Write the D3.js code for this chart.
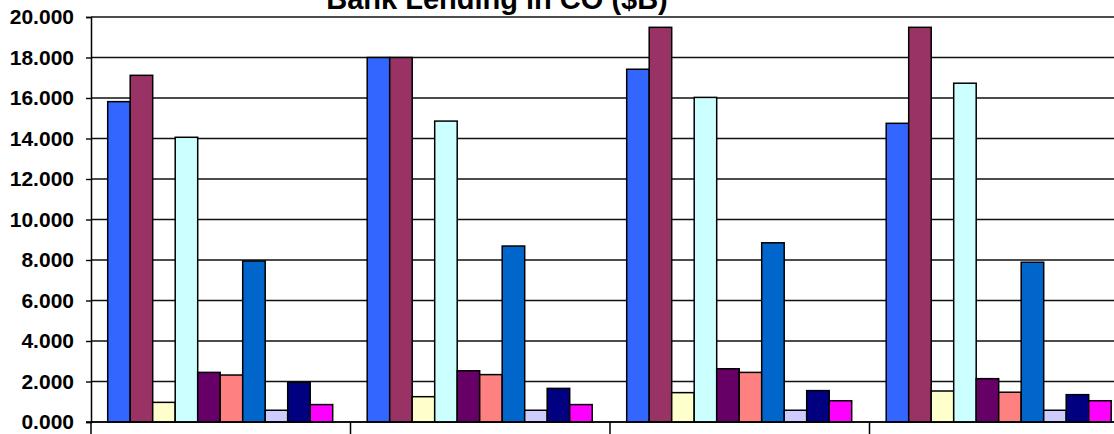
<!DOCTYPE html>
<html>
<head>
<meta charset="utf-8">
<script src="https://cdn.jsdelivr.net/npm/d3@7"></script>
<style>
  body { margin: 0; background: #fff; overflow: hidden; }
  text { font-family: "Liberation Sans", Arial, sans-serif; }
</style>
</head>
<body>
<div id="chart"></div>
<script>
// groups along the x axis (their labels fall below the visible area)
const categories = ['Period 1', 'Period 2', 'Period 3', 'Period 4'];
const series = ['S1', 'S2', 'S3', 'S4', 'S5', 'S6', 'S7', 'S8', 'S9', 'S10'];
const colors = ['#3366FF', '#993366', '#FFFFCC', '#CCFFFF', '#660066',
                '#FF8080', '#0066CC', '#CCCCFF', '#000080', '#FF00FF'];

// one array of values per group, in series order
const group1 = [15.82, 17.12, 0.97, 14.06, 2.45, 2.32, 7.95, 0.58, 1.96, 0.86];
const group2 = [18.00, 18.00, 1.25, 14.86, 2.53, 2.34, 8.69, 0.58, 1.66, 0.86];
const group3 = [17.42, 19.49, 1.45, 16.03, 2.63, 2.45, 8.85, 0.58, 1.55, 1.05];
const group4 = [14.75, 19.49, 1.53, 16.73, 2.14, 1.47, 7.89, 0.58, 1.35, 1.05];
const values = [group1, group2, group3, group4];

const yTicks = [0, 2, 4, 6, 8, 10, 12, 14, 16, 18, 20];

const WIDTH = 1114;
const HEIGHT = 434;
const LEFT = 91;
const GROUP_W = 259.5;
const TOP = 17;
const BOTTOM = 422;

const svg = d3.select('#chart')
    .append('svg')
    .attr('width', WIDTH)
    .attr('height', HEIGHT);

const x0 = d3.scaleBand()
    .domain(categories)
    .range([LEFT, LEFT + GROUP_W * categories.length]);

const x1 = d3.scaleBand()
    .domain(series)
    .range([16.7, 241.7]);

const y = d3.scaleLinear()
    .domain([0, 20])
    .range([BOTTOM, TOP]);

// gridlines
svg.append('g')
    .selectAll('line')
    .data(yTicks)
    .enter()
    .append('line')
    .attr('x1', LEFT)
    .attr('x2', WIDTH)
    .attr('y1', d => y(d))
    .attr('y2', d => y(d))
    .attr('stroke', '#111')
    .attr('stroke-width', 1.4);

// bars
const groups = svg.append('g')
    .selectAll('g')
    .data(values)
    .enter()
    .append('g')
    .attr('transform', (d, i) => `translate(${x0(categories[i])},0)`);

groups.selectAll('rect')
    .data(d => d)
    .enter()
    .append('rect')
    .attr('x', (d, i) => x1(series[i]))
    .attr('y', d => y(d))
    .attr('width', x1.bandwidth())
    .attr('height', d => BOTTOM - y(d))
    .attr('fill', (d, i) => colors[i])
    .attr('stroke', '#000')
    .attr('stroke-width', 1.5);

// y axis
const yAxis = svg.append('g')
    .attr('transform', `translate(${LEFT},0)`)
    .call(d3.axisLeft(y).tickValues(yTicks).tickFormat(d3.format('.3f')).tickSize(5).tickPadding(12));
yAxis.select('.domain').attr('stroke', '#000').attr('stroke-width', 1.5);
yAxis.selectAll('.tick line').attr('stroke', '#000').attr('stroke-width', 1.4);
yAxis.selectAll('.tick text')
    .attr('font-size', 21)
    .attr('font-weight', 'bold')
    .attr('fill', '#000')
    .attr('font-family', '"Liberation Sans", Arial, sans-serif');

// x axis: baseline and group boundary ticks (labels are cut off in the source)
const xAxis = svg.append('g')
    .attr('transform', `translate(0,${BOTTOM})`);
xAxis.append('line')
    .attr('x1', LEFT - 5)
    .attr('x2', WIDTH)
    .attr('stroke', '#000')
    .attr('stroke-width', 1.5);
xAxis.selectAll('.boundary')
    .data(d3.range(categories.length + 1))
    .enter()
    .append('line')
    .attr('x1', i => LEFT + i * GROUP_W)
    .attr('x2', i => LEFT + i * GROUP_W)
    .attr('y1', 0)
    .attr('y2', 14)
    .attr('stroke', '#000')
    .attr('stroke-width', 1.5);

// title
svg.append('text')
    .text('Bank Lending in CO ($B)')
    .attr('x', 497)
    .attr('y', 9)
    .attr('text-anchor', 'middle')
    .attr('font-size', 29)
    .attr('font-weight', 'bold')
    .attr('fill', '#000');
</script>
</body>
</html>
